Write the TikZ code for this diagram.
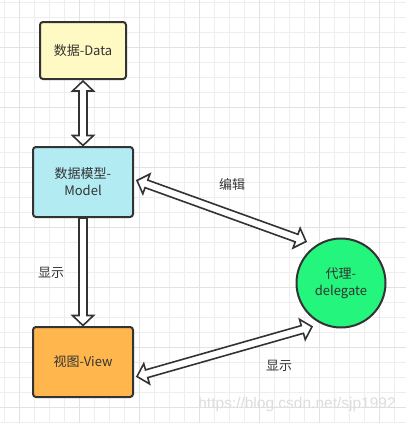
\documentclass[tikz,border=0pt]{standalone}
\usepackage{fontspec}
\setmainfont{Noto Sans CJK SC}
\newfontfamily\wmfont{Liberation Sans}
\usetikzlibrary{calc}
\definecolor{ink}{HTML}{333333}
\definecolor{gridminor}{HTML}{EEEEEE}
\definecolor{gridmajor}{HTML}{E2E2E2}
\definecolor{datafill}{HTML}{FFF9C4}
\definecolor{modelfill}{HTML}{B2EBF2}
\definecolor{viewfill}{HTML}{FFB74D}
\definecolor{delfill}{HTML}{24F57C}
\definecolor{wmcol}{HTML}{DDDDDD}
\newcommand\hl{10pt}
\newcommand\hw{10.5pt}
\newcommand\sw{4pt}
\tikzset{
  box/.style={draw=ink, line width=2pt, rounded corners=3pt, text=ink,
    font=\fontsize{13}{17}\selectfont, align=center},
  roundbox/.style={draw=ink, line width=2pt, circle, text=ink,
    font=\fontsize{13}{17}\selectfont, align=center, inner sep=0pt},
  harrow/.style={draw=ink, line width=1.6pt, fill=white, line join=miter},
  lbl/.style={text=ink, font=\fontsize{13}{17}\selectfont, inner sep=0pt},
}
\newcommand\dblarrow[2]{%
  \draw[harrow] (#1)
    -- ($(#1)!\hl!(#2)!\hw!90:(#2)$)
    -- ($(#1)!\hl!(#2)!\sw!90:(#2)$)
    -- ($(#2)!\hl!(#1)!\sw!-90:(#1)$)
    -- ($(#2)!\hl!(#1)!\hw!-90:(#1)$)
    -- (#2)
    -- ($(#2)!\hl!(#1)!\hw!90:(#1)$)
    -- ($(#2)!\hl!(#1)!\sw!90:(#1)$)
    -- ($(#1)!\hl!(#2)!\sw!-90:(#2)$)
    -- ($(#1)!\hl!(#2)!\hw!-90:(#2)$)
    -- cycle;}
\newcommand\sglarrow[2]{%
  \draw[harrow] ($(#1)!\sw!90:(#2)$)
    -- ($(#2)!\hl!(#1)!\sw!-90:(#1)$)
    -- ($(#2)!\hl!(#1)!\hw!-90:(#1)$)
    -- (#2)
    -- ($(#2)!\hl!(#1)!\hw!90:(#1)$)
    -- ($(#2)!\hl!(#1)!\sw!90:(#1)$)
    -- ($(#1)!\sw!-90:(#2)$)
    -- cycle;}
\begin{document}
\begin{tikzpicture}[x=1pt, y=-1pt]
  \fill[white] (0,0) rectangle (406,423);
  \useasboundingbox (0,0) rectangle (406,423);
  % grid
  \foreach \gx in {4.7,19.7,...,406} \draw[gridminor, line width=1pt] (\gx,0) -- (\gx,423);
  \foreach \gy in {2.3,17.3,...,423} \draw[gridminor, line width=1pt] (0,\gy) -- (406,\gy);
  \foreach \gx in {19.7,79.7,...,406} \draw[gridmajor, line width=1pt] (\gx,0) -- (\gx,423);
  \foreach \gy in {47.3,107.3,...,423} \draw[gridmajor, line width=1pt] (0,\gy) -- (406,\gy);
  % nodes
  \node[box, fill=datafill, minimum width=86pt, minimum height=57pt] (data) at (83,50.5) {数据-Data};
  \node[box, fill=modelfill, minimum width=100pt, minimum height=70pt] (model) at (83,182) {数据模型-\\Model};
  \node[box, fill=viewfill, minimum width=100pt, minimum height=70pt] (view) at (83,362) {视图-View};
  \node[roundbox, fill=delfill, minimum size=89pt] (del) at (341,283) {代理-\\delegate};
  % connector end points
  \coordinate (dA) at ($(data.south)+(0,1)$);
  \coordinate (dB) at ($(model.north)+(0,-0.5)$);
  \coordinate (mvA) at (model.south);
  \coordinate (mvB) at ($(view.north)+(0,-0.5)$);
  \coordinate (meA) at ($(model.east)+(3,-1.5)$);
  \coordinate (meB) at ($(del.center)+(-35,-41.5)$);
  \coordinate (veA) at ($(view.east)+(3,14.5)$);
  \coordinate (veB) at ($(del.center)+(-29,43.7)$);
  % connectors
  \dblarrow{dA}{dB}
  \sglarrow{mvA}{mvB}
  \dblarrow{meA}{meB}
  \dblarrow{veA}{veB}
  % labels
  \node[lbl] (l1) at (232,185) {编辑};
  \node[lbl] (l2) at (51,272.5) {显示};
  \node[lbl] (l3) at (279,366) {显示};
  \node[text=wmcol, font=\wmfont\fontsize{15.5}{18}\selectfont, inner sep=0pt] (wm) at (297,404) {https://blog.csdn.net/sjp1992};
\end{tikzpicture}
\end{document}
